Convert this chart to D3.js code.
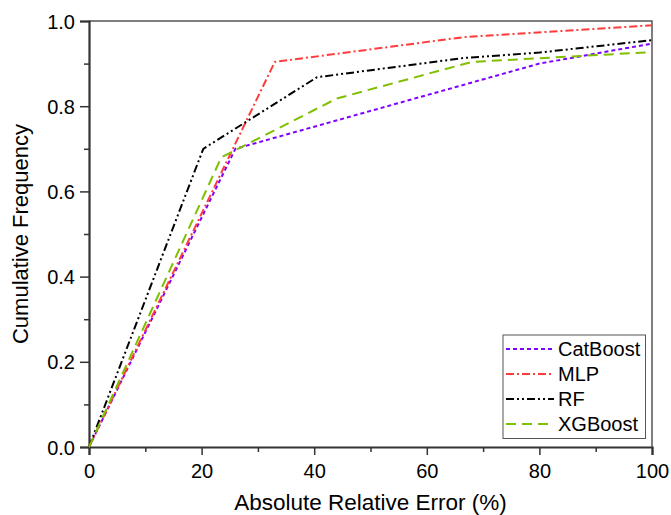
<!DOCTYPE html>
<html>
<head>
<meta charset="utf-8">
<script src="https://cdn.jsdelivr.net/npm/d3@7"></script>
<style>
  body { margin: 0; background: #fff; }
  text { font-family: Arial, "Liberation Sans", sans-serif; fill: #000; }
</style>
</head>
<body>
<svg id="chart" width="671" height="515"></svg>
<script>
// cumulative frequency of absolute relative error, per model
let catBoostErr = [0, 26, 80, 100]
let catBoostFreq = [0, 0.70, 0.90, 0.947]
let mlpErr = [0, 33, 66.5, 100]
let mlpFreq = [0, 0.904, 0.962, 0.99]
let rfErr = [0, 20.3, 40.5, 66.5, 80, 100]
let rfFreq = [0, 0.70, 0.868, 0.913, 0.926, 0.955]
let xgbErr = [0, 23.5, 44, 68, 100]
let xgbFreq = [0, 0.68, 0.818, 0.904, 0.927]

let modelNames = ["CatBoost", "MLP", "RF", "XGBoost"]
let xTicks = [0, 20, 40, 60, 80, 100]
let yTicks = [0, 0.2, 0.4, 0.6, 0.8, 1.0]

let series = [
  {name: modelNames[0], x: catBoostErr, y: catBoostFreq, color: "#8000ff", dash: "4,3"},
  {name: modelNames[1], x: mlpErr, y: mlpFreq, color: "#ff3b3b", dash: "8,3,2,3"},
  {name: modelNames[2], x: rfErr, y: rfFreq, color: "#000000", dash: "8,3,2,3,2,3"},
  {name: modelNames[3], x: xgbErr, y: xgbFreq, color: "#7fbf00", dash: "10,6"}
]

let margins = {top: 21, right: 19, bottom: 68, left: 89}
let width = 671 - margins.left - margins.right
let height = 515 - margins.top - margins.bottom

let svg = d3.select("#chart")
let g = svg.append("g").attr("transform", `translate(${margins.left},${margins.top})`)

let x = d3.scaleLinear().domain([0, 100]).range([0, width])
let y = d3.scaleLinear().domain([0, 1]).range([height, 0])

// minor ticks
let xMinor = d3.range(10, 100, 20)
let yMinor = d3.range(0.1, 1, 0.2)

g.append("g")
  .attr("transform", `translate(0,${height})`)
  .call(d3.axisBottom(x).tickValues(xMinor).tickSize(5).tickFormat(""))
  .call(a => a.select(".domain").remove())
g.append("g")
  .call(d3.axisLeft(y).tickValues(yMinor).tickSize(5).tickFormat(""))
  .call(a => a.select(".domain").remove())

// frame top and right
g.append("path")
  .attr("d", `M0,0H${width}V${height}`)
  .attr("fill", "none").attr("stroke", "#555").attr("stroke-width", 1.5)

let xAxis = g.append("g")
  .attr("transform", `translate(0,${height})`)
  .call(d3.axisBottom(x).tickValues(xTicks).tickSize(8).tickPadding(9).tickFormat(d3.format("d")))
xAxis.selectAll("text").style("font-size", "20px")

let yAxis = g.append("g")
  .call(d3.axisLeft(y).tickValues(yTicks).tickSize(9).tickPadding(5).tickFormat(d3.format(".1f")))
yAxis.selectAll("text").style("font-size", "20px").attr("dy", "0.35em")

svg.selectAll(".domain").attr("stroke", "#333").attr("stroke-width", 2.2)
svg.selectAll(".tick line").attr("stroke", "#333").attr("stroke-width", 1.5)

let line = d3.line()
  .x(d => x(d[0]))
  .y(d => y(d[1]))

g.selectAll(".series")
  .data(series)
  .enter()
  .append("path")
  .attr("class", "series")
  .attr("d", d => line(d.x.map((v, i) => [v, d.y[i]])))
  .attr("fill", "none")
  .attr("stroke", d => d.color)
  .attr("stroke-width", 2)
  .attr("stroke-dasharray", d => d.dash)

// axis titles
svg.append("text")
  .attr("x", margins.left + width / 2)
  .attr("y", 510)
  .attr("text-anchor", "middle")
  .style("font-size", "22.5px")
  .text("Absolute Relative Error (%)")

svg.append("text")
  .attr("transform", `translate(28,${margins.top + height / 2}) rotate(-90)`)
  .attr("text-anchor", "middle")
  .style("font-size", "22px")
  .text("Cumulative Frequency")

// legend
let legend = svg.append("g").attr("transform", "translate(503,335)")
legend.append("rect")
  .attr("width", 142.5).attr("height", 103.5)
  .attr("fill", "#fff").attr("stroke", "#555").attr("stroke-width", 1)

let rows = legend.selectAll(".row")
  .data(series)
  .enter()
  .append("g")
  .attr("transform", (d, i) => `translate(0,${14 + i * 25})`)

rows.append("line")
  .attr("x1", 3).attr("x2", 51)
  .attr("stroke", d => d.color)
  .attr("stroke-width", 2)
  .attr("stroke-dasharray", d => d.dash)

rows.append("text")
  .attr("x", 55)
  .attr("dy", "0.36em")
  .style("font-size", "20px")
  .text(d => d.name)
</script>
</body>
</html>
